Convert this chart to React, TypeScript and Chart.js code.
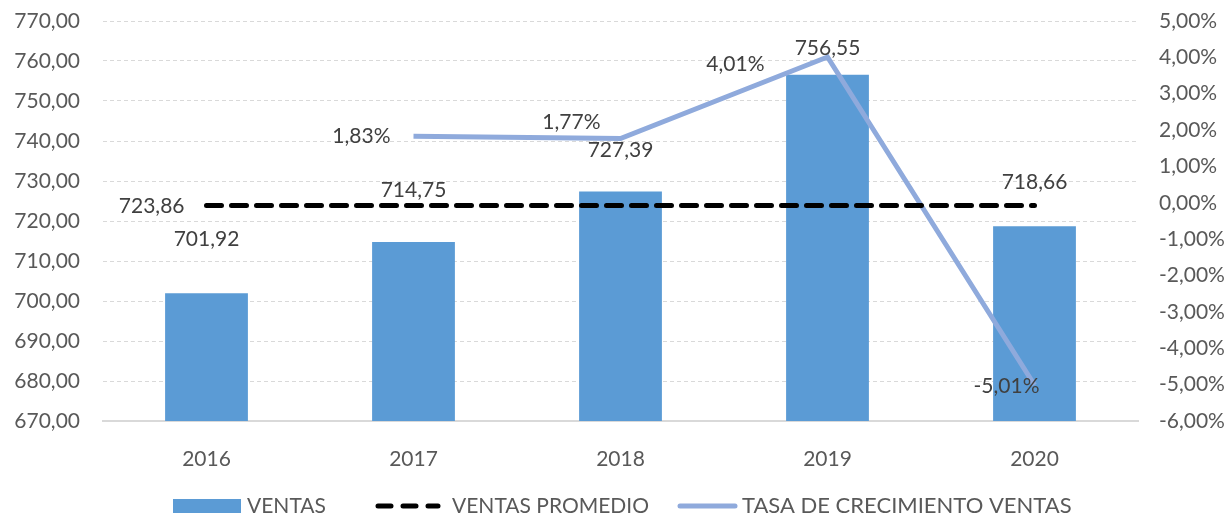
import React, { useEffect, useRef } from "react";
import Chart from "chart.js/auto";

const categories = ["2016", "2017", "2018", "2019", "2020"];
const ventas = [701.92, 714.75, 727.39, 756.55, 718.66];
const ventasPromedio = [723.86, 723.86, 723.86, 723.86, 723.86];
const tasaCrecimiento: (number | null)[] = [null, 1.83, 1.77, 4.01, -5.01];
const leftMin = 670;
const leftMax = 770;
const leftStep = 10;
const rightMin = -6;
const rightMax = 5;
const rightStep = 1;
const legendLabels = ["VENTAS", "VENTAS PROMEDIO", "TASA DE CRECIMIENTO VENTAS"];

// label placement (style only)
const ventasLabelLift = [54, 52, 41, 27, 44];
const tasaLabelShift: [number, number][] = [[0, 0], [-23, 0], [-20, -16], [-63, 7], [5, 1]];

const BAR = "#5B9BD5";
const LINE = "#8FAADC";
const TEXT = "#595959";
const LABEL = "#404040";
const FONT = "Lato";

const fmt = (v: number) => v.toFixed(2).replace(".", ",");

const labelsPlugin = {
  id: "labelsPlugin",
  afterDatasetsDraw(chart: any) {
    const ctx = chart.ctx;
    ctx.save();
    ctx.font = `21px ${FONT}`;
    ctx.fillStyle = LABEL;
    ctx.textBaseline = "middle";
    const m0 = chart.getDatasetMeta(0);
    ctx.textAlign = "center";
    m0.data.forEach((el: any, i: number) => {
      ctx.fillText(fmt(ventas[i]), el.x, el.y - ventasLabelLift[i]);
    });
    const m1 = chart.getDatasetMeta(1);
    ctx.textAlign = "right";
    const p = m1.data[0];
    ctx.fillText(fmt(ventasPromedio[0]), p.x - 22, p.y + 1);
    const m2 = chart.getDatasetMeta(2);
    m2.data.forEach((el: any, i: number) => {
      const v = tasaCrecimiento[i];
      if (v === null) return;
      const [dx, dy] = tasaLabelShift[i];
      ctx.fillText(fmt(v) + "%", el.x + dx, el.y + dy);
    });
    ctx.restore();
  },
  afterDraw(chart: any) {
    const ctx = chart.ctx;
    ctx.save();
    const y = 506;
    ctx.font = `21px ${FONT}`;
    ctx.fillStyle = TEXT;
    ctx.textBaseline = "middle";
    ctx.textAlign = "left";
    ctx.fillStyle = BAR;
    ctx.fillRect(173, y - 7, 68, 14);
    ctx.fillStyle = TEXT;
    ctx.fillText(legendLabels[0], 247, y);
    ctx.strokeStyle = "#000000";
    ctx.lineWidth = 5;
    ctx.lineCap = "round";
    ctx.setLineDash([13, 12]);
    ctx.beginPath();
    ctx.moveTo(378, y);
    ctx.lineTo(438, y);
    ctx.stroke();
    ctx.setLineDash([]);
    ctx.fillText(legendLabels[1], 452, y);
    ctx.strokeStyle = LINE;
    ctx.beginPath();
    ctx.moveTo(680, y);
    ctx.lineTo(735, y);
    ctx.stroke();
    ctx.font = `22px ${FONT}`;
    ctx.fillText(legendLabels[2], 742, y);
    ctx.restore();
  },
};

export default function App() {
  const ref = useRef<HTMLCanvasElement>(null);
  useEffect(() => {
    if (!ref.current) return;
    Chart.defaults.font.family = FONT;
    const chart = new Chart(ref.current, {
      type: "bar",
      data: {
        labels: categories,
        datasets: [
          {
            type: "bar",
            label: legendLabels[0],
            data: ventas,
            backgroundColor: BAR,
            barPercentage: 0.4,
            categoryPercentage: 1,
            yAxisID: "y",
            order: 3,
          },
          {
            type: "line",
            label: legendLabels[1],
            data: ventasPromedio,
            borderColor: "#000000",
            borderWidth: 5,
            borderDash: [15, 10],
            borderCapStyle: "round",
            pointRadius: 0,
            fill: false,
            yAxisID: "y",
            order: 1,
          },
          {
            type: "line",
            label: legendLabels[2],
            data: tasaCrecimiento,
            borderColor: LINE,
            borderWidth: 5,
            pointRadius: 0,
            fill: false,
            yAxisID: "y1",
            order: 2,
          },
        ] as any,
      },
      options: {
        animation: false,
        responsive: true,
        maintainAspectRatio: false,
        layout: { padding: { top: 21, left: 0, right: 0, bottom: 0 } },
        plugins: { legend: { display: false }, tooltip: { enabled: false } },
        scales: {
          x: {
            grid: { display: false },
            border: { display: true, color: "#d9d9d9", width: 2 },
            ticks: { color: TEXT, font: { size: 21, family: FONT }, padding: 18 },
            afterFit: (s: any) => { s.height = 93; s.paddingLeft = 0; s.paddingRight = 0; },
          },
          y: {
            position: "left",
            min: leftMin,
            max: leftMax,
            ticks: {
              stepSize: leftStep,
              color: TEXT,
              font: { size: 21, family: FONT },
              padding: 23,
              callback: (v: any) => fmt(Number(v)),
            },
            grid: { color: "#d9d9d9", lineWidth: 1, drawTicks: false },
            border: { display: false, dash: [4, 3] },
            afterFit: (s: any) => { s.width = 103; s.paddingTop = 0; s.paddingBottom = 0; },
          },
          y1: {
            position: "right",
            min: rightMin,
            max: rightMax,
            ticks: {
              stepSize: rightStep,
              color: TEXT,
              font: { size: 21, family: FONT },
              padding: 21,
              callback: (v: any) => fmt(Number(v)) + "%",
            },
            grid: { display: false, drawTicks: false },
            border: { display: false },
            afterFit: (s: any) => { s.width = 91; s.paddingTop = 0; s.paddingBottom = 0; },
          },
        },
      } as any,
      plugins: [labelsPlugin],
    });
    return () => chart.destroy();
  }, []);
  return (
    <div style={{ position: "absolute", left: 0, top: 0, width: 1229, height: 514, background: "#fff" }}>
      <canvas ref={ref} />
    </div>
  );
}
